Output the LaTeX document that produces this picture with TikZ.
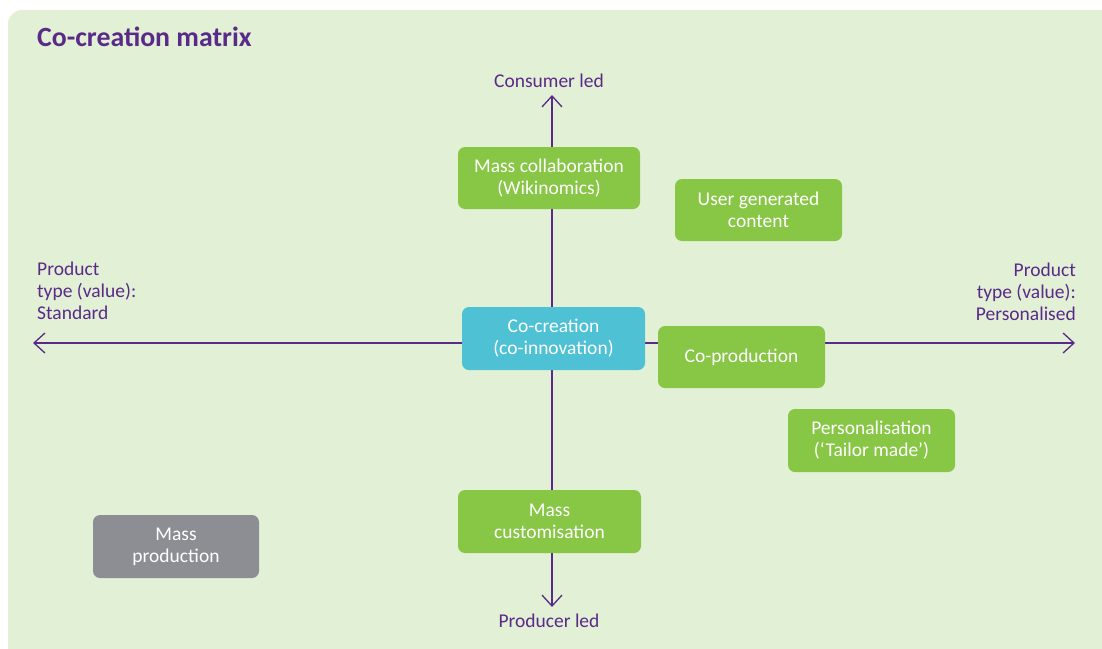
\documentclass[tikz,border=0pt]{standalone}
\usepackage{fontspec}
\setmainfont{Carlito}
\usetikzlibrary{arrows.meta}
\definecolor{panel}{HTML}{E2F0D6}
\definecolor{axis}{HTML}{5A2A88}
\definecolor{leaf}{HTML}{88C646}
\definecolor{aqua}{HTML}{4FC1D5}
\definecolor{slate}{HTML}{8D8E93}
\begin{document}
\begin{tikzpicture}[x=1pt,y=-1pt,
  box/.style={rounded corners=7pt,text=white,align=center,font=\fontsize{19.5}{22}\selectfont,inner sep=0pt},
  axlabel/.style={text=axis,font=\fontsize{19.5}{22}\selectfont,inner sep=0pt},
  axisline/.style={draw=axis,line width=1.3pt,{Straight Barb[length=11pt,width=20pt]}-{Straight Barb[length=11pt,width=20pt]}}]
\useasboundingbox (0,0) rectangle (1102,648);
\fill[white] (0,0) rectangle (1102,648);
\fill[panel,rounded corners=14pt] (8,10) rectangle (1130,680);
\node[anchor=base west,text=axis,font=\fontsize{27.8}{31}\selectfont\bfseries,inner sep=0pt] (title) at (37,46) {Co-creation matrix};
% axes
\node[axlabel,anchor=base] (top) at (549,87) {Consumer led};
\node[axlabel,anchor=base] (bottom) at (549,627) {Producer led};
\coordinate (tip) at (552,95);
\coordinate (btip) at (552,607);
\coordinate (ltip) at (33,343);
\coordinate (rtip) at (1075,343);
\draw[axisline] (btip) -- (tip);
\draw[axisline] (ltip) -- (rtip);
\node[axlabel,anchor=base west,align=left] (left) at (37,319) {Product\\type (value):\\Standard};
\node[axlabel,anchor=base east,align=right] (right) at (1076,320) {Product\\type (value):\\Personalised};
% quadrant boxes
\node[box,fill=leaf,minimum width=182pt,minimum height=62pt] (collab) at (549,178) {Mass collaboration\\(Wikinomics)};
\node[box,fill=leaf,minimum width=167pt,minimum height=62pt] (ugc) at (758.5,210) {User generated\\content};
\node[box,fill=aqua,minimum width=183pt,minimum height=63pt] (cocre) at (553.5,338.5) {Co-creation\\(co-innovation)};
\node[box,fill=leaf,minimum width=167pt,minimum height=62pt] (coprod) at (741.5,357) {Co-production};
\node[box,fill=leaf,minimum width=167pt,minimum height=63pt] (pers) at (871.5,440.5) {Personalisation\\(‘Tailor made’)};
\node[box,fill=leaf,minimum width=183pt,minimum height=63pt] (custom) at (549.5,521.5) {Mass\\customisation};
\node[box,fill=slate,minimum width=166pt,minimum height=63pt] (massprod) at (176,546.5) {Mass\\production};
\end{tikzpicture}
\end{document}
